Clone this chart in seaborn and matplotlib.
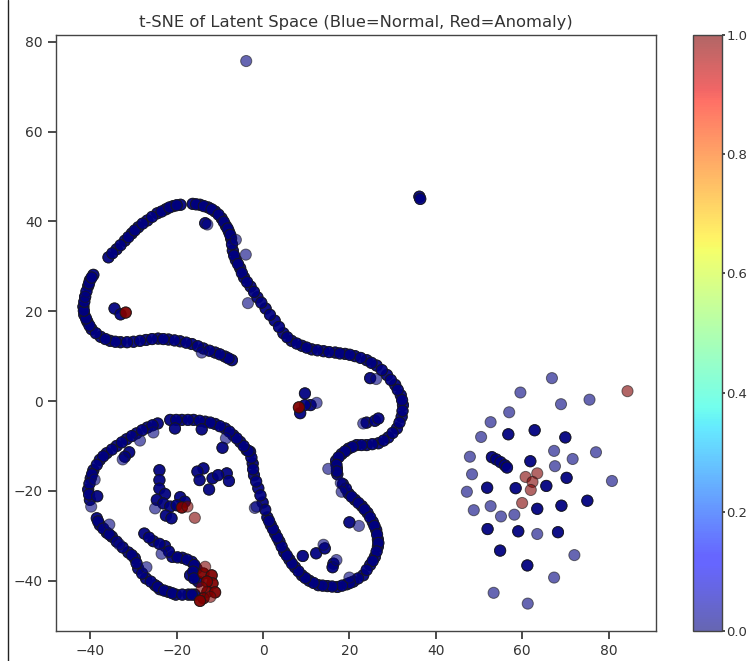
import numpy as np
import pandas as pd
import matplotlib
matplotlib.use("Agg")
import matplotlib.pyplot as plt
from matplotlib.lines import Line2D
import seaborn as sns

TITLE = "t-SNE of Latent Space (Blue=Normal, Red=Anomaly)"

# Points that look solid navy / solid dark red stack several samples: stack_count says how many.
stack_count = 3

curve_x = [-7.2,-8.8,-11.1,-13.8,-16.5,-19.2,-21.9,-24.3,-27.1,-30,-33,-35.4,-37.6,-39.7,-40.7,-41.4,-41.6,-41.2,-40.5,-40.1,-39.3,
           -35.8,-33.9,-32,-30.4,-28.9,-26.8,-24.5,-22.5,-20.8,-19.1,
           -16.3,-14.6,-12.7,-11.1,-9.6,-8.6,-7.9,-7.4,-7,-6.3,-5.3,-4.4,-2.9,-1.3,0.6,2.7,4.7,6.6,9,11.3,14,16.7,19,21.3,24,26.3,28.7,30.6,31.9,32.4,32.1,31,29,26.7,24,21.7,19.8,18.2,16.9,17.1,17.2,
           18.5,19.8,21.3,22.9,24.2,25.4,26.2,26.6,26.6,25.9,24.8,23.2,20.9,19.4,17.2,14.9,12.8,10.7,9,7.4,6.1,4.9,3.8,2.8,1.8,1,-0.1,-1.1,-2.1,-2.4,-3,
           -3.8,-5.3,-6.9,-8.8,-11.1,-13.4,-16.1,-18.8,-21.5,
           -24.4,-26.8,-29.3,-31.6,-33.9,-36.2,-37.8,-39.3,-39.9,-40.5,-40.1,
           -38.5,-37.8,-36.2,-35,-31.2,-29.7,-28.9,-27.1,-25,-23.9,-21.9,-20.2,-17.3,-15.8,
           -27.5,-25.4,-22.7,-21,-18.7,-16.5,-15.4,-16.9,-15]
curve_y = [9.1,9.9,10.8,11.7,12.7,13.3,13.7,13.9,13.6,13.2,13.1,13.4,14.3,16,17.7,19.2,21,23.2,25.6,26.9,28.1,
           32,33.8,35.7,37.3,38.7,40.2,41.8,42.7,43.4,43.7,
           43.9,43.7,43.1,42.2,40.7,39,37.7,36.2,33.5,31.4,29.6,27.5,25.5,23.1,20.6,17.9,15.1,13.4,12.3,11.5,11.1,10.8,10.5,10,9.1,7.9,5.8,3.6,1.3,-0.9,-3.5,-6.1,-8.1,-9.4,-9.8,-9.8,-10.6,-11.8,-13.3,-15,-16.3,
           -18.5,-20.6,-22,-23.4,-24.9,-26.9,-28.7,-30.8,-32.4,-34.7,-36.5,-38.8,-40.2,-40.8,-41.4,-41.2,-41,-40,-38.8,-37,-35.3,-33.6,-31.3,-29.5,-27.6,-25.9,-22.6,-19.4,-16.5,-13.9,-11.3,
           -10.9,-9.1,-7.6,-6.1,-5.1,-4.6,-4.2,-4.2,-4.2,
           -5,-5.9,-7.2,-8.5,-10,-11.6,-13.1,-15.4,-17.2,-19.7,-22,
           -26.1,-27.6,-29.3,-30.2,-33.7,-35,-37.3,-39.5,-41,-41.9,-42.5,-43.1,-43.1,-43.1,
           -29.5,-31.2,-32.3,-34.7,-34.9,-35.8,-37.3,-38.8,-40.2]

# Further beads read between the ones above, where the band is continuous.
bead_x = [-8,-10,-12.4,-15.1,-17.8,-20.5,-23.1,-25.7,-28.5,-31.5,-34.2,-36.5,-38.7,-40.2,-41,-41.5,-41.4,-40.9,-40.3,-39.7,
          -34.9,-33,-31.2,-29.7,-27.9,-25.7,-23.5,-21.7,-20,
          -15.5,-13.7,-11.9,-10.3,-9.1,-8.2,-7.6,-7.2,-6.7,-5.8,-4.9,-3.7,-2.1,-0.4,1.6,3.7,5.6,7.8,10.1,12.6,15.3,17.8,20.1,22.6,25.1,27.5,29.6,31.2,32.2,32.3,31.6,30,27.9,25.3,22.8,20.7,19,17.5,17,17.1,
          19.2,20.5,22.1,23.5,24.8,25.8,26.4,26.7,26.3,25.4,24,22,20.1,18.3,16,13.8,11.7,9.8,8.2,6.7,5.5,4.3,3.3,2.3,1.4,0.5,-0.6,-1.6,-2.3,-2.7,-3.4,-4.5,-6.1,-7.8,-10,-12.2,-14.7,-17.4,-20.1,
          -25.6,-28,-30.4,-32.7,-35,-37,-38.5,-39.6,-40.2,-40.3,
          -38.2,-37,-35.6,-33.9,-32.5,-30.4,-29.3,-28,-26,-24.4,-22.9,-21,-18.7,-16.5,
          -26.4,-24,-21.8,-19.8,-17.6,-15.9,-16.2,-16]
bead_y = [9.5,10.4,11.2,12.2,13,13.5,13.8,13.8,13.4,13.1,13.2,13.8,15.1,16.8,18.4,20.1,22.1,24.4,26.2,27.5,
          32.9,34.7,36.5,38,39.5,41,42.2,43.1,43.6,
          43.8,43.4,42.7,41.5,39.9,38.4,37,34.9,32.4,30.5,28.5,26.5,24.3,21.9,19.2,16.5,14.2,12.8,11.9,11.3,10.9,10.6,10.3,9.6,8.5,6.9,4.7,2.5,0.2,-2.2,-4.8,-7.1,-8.8,-9.6,-9.8,-10.2,-11.2,-12.5,-14.2,-15.7,
          -19.5,-21.3,-22.7,-24.1,-25.9,-27.8,-29.7,-31.6,-33.5,-35.6,-37.6,-39.5,-40.5,-41.1,-41.3,-41.1,-40.5,-39.4,-37.9,-36.2,-34.4,-32.4,-30.4,-28.5,-26.7,-24.2,-21,-17.9,-15.2,-12.6,-11.1,-10,-8.3,-6.8,-5.6,-4.8,-4.4,-4.2,-4.2,
          -5.4,-6.5,-7.8,-9.2,-10.8,-12.3,-14.2,-16.3,-18.4,-20.8,
          -26.8,-28.4,-29.7,-31.3,-32.6,-34.3,-36.1,-38.4,-40.2,-41.4,-42.2,-42.8,-43.1,-43.1,
          -30.4,-31.8,-33.5,-34.8,-35.3,-36.5,-38,-39.5]

dark_x = [36.2,36.4,-13.4,-34.4,-33,24.8,9.7,11,9.7,8.6,24,25.9,26.7,20,9.2,12.3,14.3,16.3,16.1,-38.4,-31,-32,-20.4,-14.2,-9.4,
          -24,-24,-24,-22.7,-24.6,-23.1,-21.5,-22.5,-21.2,-19.2,-18.1,-20,
          -13.8,-15.2,-14.7,-11.7,-12.5,-8.4,-7.9,-10.4,
          56.8,62.9,70,61.9,70.3,51.9,58.5,65.6,75.1,69.1,63.5,52,59.1,68.3,54.9,61.2,53,54,55,56,56.5]
dark_y = [45.5,45,39.6,20.6,19.3,5.1,1.7,-0.9,-0.9,-2.7,-4.8,-4.4,-3.9,-27,-34.5,-33.9,-32.8,-36.2,-37,-21.2,-11.4,-12.4,-6.1,-6.3,-10.4,
          -15.4,-17.6,-19.5,-20.7,-22,-22.8,-23.5,-25.5,-26.1,-21.4,-22.4,-23.2,
          -15,-15.7,-17.6,-17.2,-19.7,-16.1,-17.8,-16.5,
          -7.4,-6.5,-8.1,-13.4,-17.1,-19.3,-19.4,-18.9,-22.2,-23.3,-24,-28.5,-29,-29.2,-33.3,-36.6,-12.5,-13,-13.6,-14.3,-14.8]

light_x = [-3.9,-12.9,-6.3,-4,-3.5,-14.2,26.2,12.4,23.2,15.1,18,18.2,22.2,-1.9,14,17,20,-1.5,-39.8,-39,-32.5,-28.5,-25.4,-8.6,-25,-35.6,-33.3,-27,-23.5,-41.2,
           66.9,59.6,69,75.6,57,52.7,50.5,47.9,48.4,47.2,48.8,52.7,55.1,58.2,63.5,67.4,71.7,77.1,67.6,80.8,72.1,67.4,53.4,61.3]
light_y = [75.7,39.3,35.9,32.6,21.8,10.8,4.9,-0.4,-5,-15.1,-18.2,-20.2,-27.8,-23.8,-32,-35.4,-39.3,-23.5,-23.5,-17.5,-13,-8.8,-7,-8.3,-23.9,-27.5,-31.9,-37,-34,23.2,
           5.1,1.9,-0.7,0.3,-2.5,-4.7,-8,-12.4,-16.3,-20.2,-24.3,-23.4,-25.7,-25.3,-29.6,-11.1,-12.9,-11.4,-14.5,-17.8,-34.3,-39.3,-42.7,-45.1]

anomaly_dark_x = [-31.8,8.3,-13.8,-11.9,-11.7,-13,-12.9,-11.1,-13.8,-14.6,-18.8]
anomaly_dark_y = [19.7,-1.4,-38.4,-38.8,-40.6,-40.2,-42.5,-42.6,-43.9,-44.5,-23.7]

anomaly_light_x = [-13.4,-17.5,-15.8,60.8,63.5,62.4,62,60,84.4,-12.2,-14.2]
anomaly_light_y = [-36.9,-23.5,-26,-16.9,-16.1,-18,-19.8,-22.7,2.2,-43.6,-41.5]

x = np.concatenate([np.repeat(curve_x, stack_count), np.repeat(bead_x, stack_count), np.repeat(dark_x, stack_count), light_x,
                    np.repeat(anomaly_dark_x, stack_count), anomaly_light_x])
y = np.concatenate([np.repeat(curve_y, stack_count), np.repeat(bead_y, stack_count), np.repeat(dark_y, stack_count), light_y,
                    np.repeat(anomaly_dark_y, stack_count), anomaly_light_y])
label = np.concatenate([np.zeros(stack_count * (len(curve_x) + len(bead_x) + len(dark_x)) + len(light_x)),
                        np.ones(stack_count * len(anomaly_dark_x) + len(anomaly_light_x))])
df = pd.DataFrame({"x": x, "y": y, "label": label})

sns.set_theme(style="white", rc={"axes.edgecolor": "#444444", "xtick.color": "#333333", "ytick.color": "#333333",
                                 "text.color": "#333333", "axes.labelcolor": "#333333",
                                 "xtick.bottom": True, "ytick.left": True, "font.family": "DejaVu Sans",
                                 "font.size": 10, "xtick.labelsize": 10, "ytick.labelsize": 10, "axes.titlesize": 11.75,
                                 "axes.linewidth": 1.0})

W, H = 752, 661
fig = plt.figure(figsize=(W / 100, H / 100), dpi=100)
ax = fig.add_axes([56 / W, (H - 631) / H, 600 / W, 596 / H])
sns.scatterplot(data=df, x="x", y="y", c=df["label"].to_numpy(), cmap="jet", vmin=0, vmax=1, alpha=0.6,
                s=64, edgecolor="k", linewidth=0.7, legend=False, ax=ax)
points = ax.collections[0]
ax.set_xlim(-47.95, 91.0)
ax.set_ylim(-51.2, 81.5)
ax.set_xticks([-40, -20, 0, 20, 40, 60, 80])
ax.set_yticks([-40, -20, 0, 20, 40, 60, 80])
ax.set_xlabel("")
ax.set_ylabel("")
ax.set_title(TITLE, pad=6)

cax = fig.add_axes([693 / W, (H - 631) / H, 29 / W, 596 / H])
cbar = fig.colorbar(points, cax=cax)
cbar.set_ticks([0.0, 0.2, 0.4, 0.6, 0.8, 1.0])
cbar.ax.tick_params(length=2.5, pad=0.5, labelsize=9.5)
cbar.outline.set_edgecolor("#444444")

# The thin dark rule at the far left of the screenshot
fig.add_artist(Line2D([7.5 / W, 7.5 / W], [0, 1], color="#222222", lw=1.0, transform=fig.transFigure))

fig.savefig("out.png", dpi=100)
